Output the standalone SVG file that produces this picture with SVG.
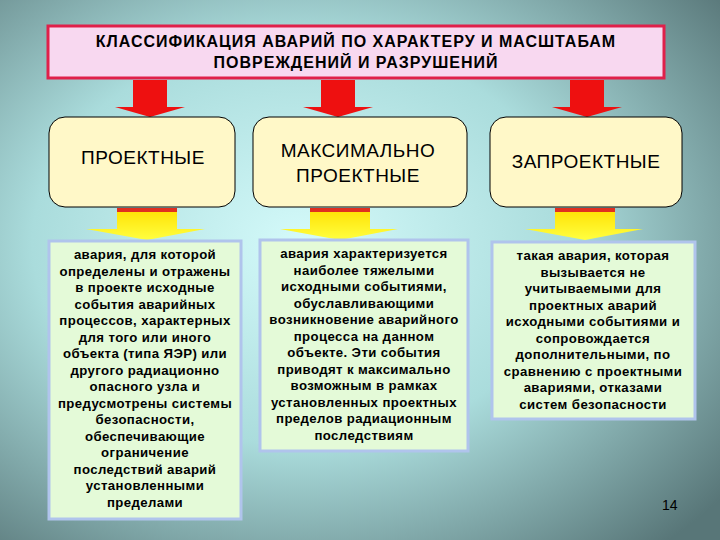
<svg xmlns="http://www.w3.org/2000/svg" width="720" height="540" viewBox="0 0 720 540">
<defs>
<radialGradient id="bg" cx="0.42" cy="0.45" r="0.75">
<stop offset="0" stop-color="#d4fafa"/><stop offset="0.5" stop-color="#aadcdc"/><stop offset="1" stop-color="#587678"/>
</radialGradient>
<linearGradient id="yel" x1="0" y1="0" x2="0" y2="1"><stop offset="0" stop-color="#ffe000"/><stop offset="1" stop-color="#ffff40"/></linearGradient>
<style>
text{font-family:"Liberation Sans",Arial,sans-serif;fill:#000}
.t{font-size:13.2px;font-weight:bold;text-anchor:middle;letter-spacing:0.4px}
.tt{font-size:16px;font-weight:bold;text-anchor:middle;letter-spacing:1px}
.h{font-size:19px;text-anchor:middle;letter-spacing:0.5px}
.node{fill:#fff8c8;stroke:#000;stroke-width:1}
.desc{fill:#e4fad8;stroke:#b0c4ec;stroke-width:3}
.ra{fill:#ee1010}
.ya{fill:url(#yel)}
</style>
</defs>
<rect width="720" height="540" fill="url(#bg)"/>
<g id="title">
<rect x="48" y="26" width="616" height="52" fill="#f8d8f0" stroke="#e0204a" stroke-width="3"/>
<text class="tt" x="356" y="47">КЛАССИФИКАЦИЯ АВАРИЙ ПО ХАРАКТЕРУ И МАСШТАБАМ</text>
<text class="tt" x="356" y="68">ПОВРЕЖДЕНИЙ И РАЗРУШЕНИЙ</text>
</g>
<g id="connectors">
<polygon class="ra" points="133,80 167,80 167,107 185,107 150,117 115,107 133,107"/>
<polygon class="ra" points="321,80 355,80 355,107 373,107 338,117 303,107 321,107"/>
<polygon class="ra" points="570,80 604,80 604,107 622,107 587,117 552,107 570,107"/>
<g>
<polygon class="ya" points="117,208 177,208 177,229 205,229 147,240 86,229 117,229"/>
<rect x="117" y="208" width="60" height="4" fill="#e03020"/>
<polygon class="ya" points="310,208 370,208 370,229 398,229 340,240 280,229 310,229"/>
<rect x="310" y="208" width="60" height="4" fill="#e03020"/>
<polygon class="ya" points="555,208 615,208 615,229 643,229 585,240 525,229 555,229"/>
<rect x="555" y="208" width="60" height="4" fill="#e03020"/>
</g>
</g>
<g id="n1"><rect class="node" x="49" y="117" width="186" height="90" rx="16"/>
<text class="h" x="143" y="164">ПРОЕКТНЫЕ</text></g>
<g id="n2"><rect class="node" x="253" y="117" width="214" height="90" rx="16"/>
<text class="h" x="358" y="157">МАКСИМАЛЬНО</text><text class="h" x="358" y="182">ПРОЕКТНЫЕ</text></g>
<g id="n3"><rect class="node" x="490" y="117" width="192" height="90" rx="16"/>
<text class="h" x="586" y="168">ЗАПРОЕКТНЫЕ</text></g>
<g id="d1"><rect class="desc" x="49" y="241" width="192" height="278"/>
<text class="t" x="145" y="259">авария, для которой</text>
<text class="t" x="145" y="275.5">определены и отражены</text>
<text class="t" x="145" y="292">в проекте исходные</text>
<text class="t" x="145" y="308.5">события аварийных</text>
<text class="t" x="145" y="325">процессов, характерных</text>
<text class="t" x="145" y="341.5">для того или иного</text>
<text class="t" x="145" y="358">объекта (типа ЯЭР) или</text>
<text class="t" x="145" y="374.5">другого радиационно</text>
<text class="t" x="145" y="391">опасного узла и</text>
<text class="t" x="145" y="407.5">предусмотрены системы</text>
<text class="t" x="145" y="424">безопасности,</text>
<text class="t" x="145" y="440.5">обеспечивающие</text>
<text class="t" x="145" y="457">ограничение</text>
<text class="t" x="145" y="473.5">последствий аварий</text>
<text class="t" x="145" y="490">установленными</text>
<text class="t" x="145" y="506.5">пределами</text>
</g>
<g id="d2"><rect class="desc" x="260" y="240" width="208" height="211"/>
<text class="t" x="364" y="258">авария характеризуется</text>
<text class="t" x="364" y="274.5">наиболее тяжелыми</text>
<text class="t" x="364" y="291">исходными событиями,</text>
<text class="t" x="364" y="307.5">обуславливающими</text>
<text class="t" x="364" y="324">возникновение аварийного</text>
<text class="t" x="364" y="340.5">процесса на данном</text>
<text class="t" x="364" y="357">объекте. Эти события</text>
<text class="t" x="364" y="373.5">приводят к максимально</text>
<text class="t" x="364" y="390">возможным в рамках</text>
<text class="t" x="364" y="406.5">установленных проектных</text>
<text class="t" x="364" y="423">пределов радиационным</text>
<text class="t" x="364" y="439.5">последствиям</text>
</g>
<g id="d3"><rect class="desc" x="492" y="242" width="203" height="177"/>
<text class="t" x="593" y="260">такая авария, которая</text>
<text class="t" x="593" y="276.5">вызывается не</text>
<text class="t" x="593" y="293">учитываемыми для</text>
<text class="t" x="593" y="309.5">проектных аварий</text>
<text class="t" x="593" y="326">исходными событиями и</text>
<text class="t" x="593" y="342.5">сопровождается</text>
<text class="t" x="593" y="359">дополнительными, по</text>
<text class="t" x="593" y="375.5">сравнению с проектными</text>
<text class="t" x="593" y="392">авариями, отказами</text>
<text class="t" x="593" y="408.5">систем безопасности</text>
</g>
<text x="662" y="510" style="font-size:14px">14</text>
</svg>
